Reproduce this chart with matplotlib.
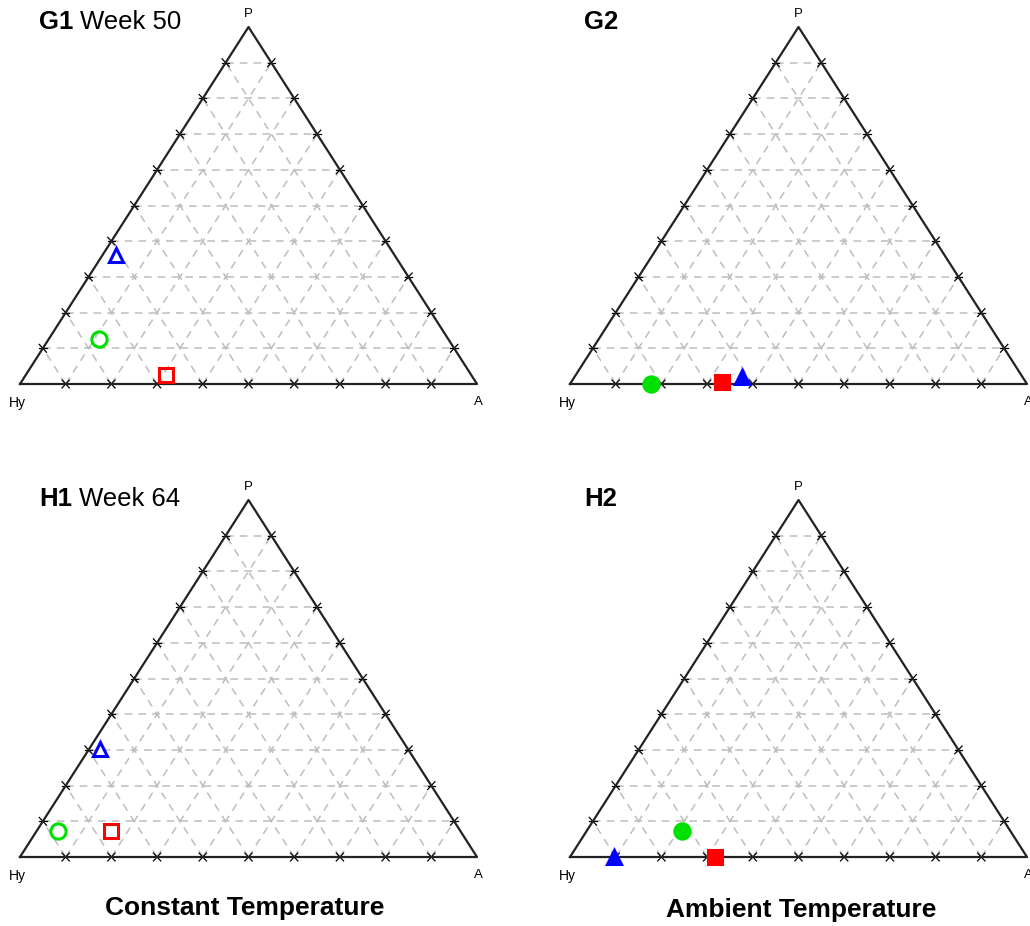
import numpy as np
import matplotlib
matplotlib.use('Agg')
import matplotlib.pyplot as plt

plt.rcParams['font.family'] = ['Liberation Sans', 'DejaVu Sans']

# ternary values (Hy, A, P) per panel
panels = ['G1', 'G2', 'H1', 'H2']
titles = {'G1': 'Week 50', 'G2': '', 'H1': 'Week 64', 'H2': ''}
filled = {'G1': False, 'G2': True, 'H1': False, 'H2': True}

tri_A = {'G1': 0.03, 'G2': 0.366, 'H1': 0.024, 'H2': 0.096}
tri_P = {'G1': 0.36, 'G2': 0.02, 'H1': 0.303, 'H2': 0.0}
circ_A = {'G1': 0.11, 'G2': 0.177, 'H1': 0.047, 'H2': 0.208}
circ_P = {'G1': 0.126, 'G2': 0.0, 'H1': 0.073, 'H2': 0.073}
sq_A = {'G1': 0.307, 'G2': 0.33, 'H1': 0.163, 'H2': 0.317}
sq_P = {'G1': 0.025, 'G2': 0.006, 'H1': 0.073, 'H2': 0.0}

# pixel box of each triangle: Hy x, A x, base y, apex y
boxes = {'G1': (20, 477, 384, 27), 'G2': (570, 1027, 384, 27),
         'H1': (20, 477, 857, 500), 'H2': (570, 1027, 857, 500)}

W, H = 1030, 926
fig = plt.figure(figsize=(W / 100, H / 100), dpi=100)


def xy(a, p):
    # A + P/2 across, P up
    return a + p / 2.0, p


for name in panels:
    x0, x1, yb, yt = boxes[name]
    ax = fig.add_axes([x0 / W, (H - yb) / H, (x1 - x0) / W, (yb - yt) / H])
    ax.set_xlim(0, 1)
    ax.set_ylim(0, 1)
    ax.axis('off')

    # grid
    gkw = dict(color='#bdbdbd', lw=1.1, ls=(0, (5, 4)), zorder=1)
    for k in range(1, 10):
        f = k / 10
        ax.plot([f / 2, 1 - f / 2], [f, f], **gkw)
        ax.plot([f, f + (1 - f) / 2], [0, 1 - f], **gkw)
        ax.plot([1 - f, (1 - f) / 2], [0, 1 - f], **gkw)

    # ticks: short crossing marks where grid lines meet the edges
    ty = 0.011
    tx = 0.008
    tkw = dict(color='black', lw=0.9, zorder=2, clip_on=False)
    for k in range(1, 10):
        f = k / 10
        # base
        ax.plot([f - tx, f + tx], [-ty, ty], **tkw)
        ax.plot([f + tx, f - tx], [-ty, ty], **tkw)
        # left edge point
        lx, ly = f / 2, f
        ax.plot([lx - tx, lx + tx], [ly, ly], **tkw)
        ax.plot([lx - tx, lx + tx], [ly + ty, ly - ty], **tkw)
        # right edge point
        rx, ry = 1 - f / 2, f
        ax.plot([rx - tx, rx + tx], [ry, ry], **tkw)
        ax.plot([rx - tx, rx + tx], [ry - ty, ry + ty], **tkw)

    ax.plot([0, 1, 0.5, 0], [0, 0, 1, 0], color='#222222', lw=1.6,
            zorder=3, clip_on=False)

    ax.text(-0.006, -0.035, 'Hy', fontsize=10, ha='center', va='top')
    ax.text(1.002, -0.035, 'A', fontsize=9.5, ha='center', va='top')
    ax.text(0.5, 1.02, 'P', fontsize=9.5, ha='center', va='bottom')

    fc = filled[name]
    x, y = xy(tri_A[name], tri_P[name])
    ax.plot(x, y, marker='^', ms=10, mew=2.2, color='blue',
            mfc='blue' if fc else 'none', zorder=5, clip_on=False)
    x, y = xy(circ_A[name], circ_P[name])
    ax.plot(x, y, marker='o', ms=11, mew=2.2, color='#00e000',
            mfc='#00e000' if fc else 'none', zorder=5, clip_on=False)
    x, y = xy(sq_A[name], sq_P[name])
    ax.plot(x, y, marker='s', ms=10.5, mew=2.2, color='red',
            mfc='red' if fc else 'none', zorder=5, clip_on=False)

# panel titles
for name, px, py in [('G1', 39, 22), ('G2', 584, 22), ('H1', 39, 499), ('H2', 584, 499)]:
    t1 = fig.text(px / W, 1 - py / H, name, fontsize=18.5, fontweight='bold',
                  ha='left', va='center')
    if titles[name]:
        fig.canvas.draw()
        bb = t1.get_window_extent()
        fig.text((bb.x1 + 7) / W, 1 - py / H, titles[name], fontsize=18.5,
                 ha='left', va='center')

fig.text(245 / W, 1 - 908 / H, 'Constant Temperature', fontsize=19,
         fontweight='bold', ha='center', va='center')
fig.text(801 / W, 1 - 910 / H, 'Ambient Temperature', fontsize=19,
         fontweight='bold', ha='center', va='center')

fig.savefig('out.png', dpi=100)
